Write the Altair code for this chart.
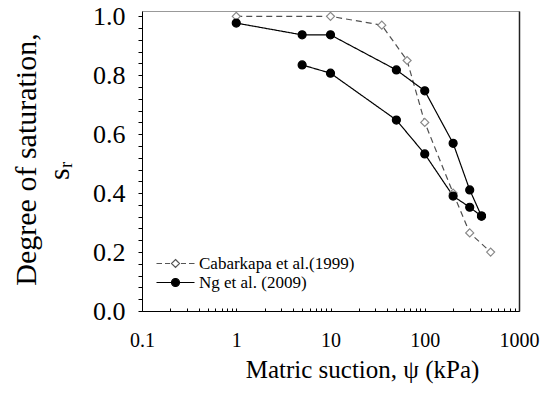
import altair as alt
import pandas as pd

CAB = "Cabarkapa et al.(1999)"
NG = "Ng et al. (2009)"

# Cabarkapa et al. (1999)
cab_psi = [1, 10, 35, 65, 100, 200, 300, 500]
cab_sr = [1.0, 1.0, 0.97, 0.85, 0.64, 0.40, 0.265, 0.20]
# Ng et al. (2009) - upper curve
ng1_psi = [1, 5, 10, 50, 100, 200, 300, 400]
ng1_sr = [0.977, 0.937, 0.937, 0.818, 0.747, 0.569, 0.411, 0.322]
# Ng et al. (2009) - lower curve
ng2_psi = [5, 10, 50, 100, 200, 300, 400]
ng2_sr = [0.835, 0.807, 0.648, 0.533, 0.390, 0.352, 0.322]

x_tick_values = [0.1, 0.2, 0.3, 0.4, 0.5, 0.6, 0.7, 0.8, 0.9,
                 1, 2, 3, 4, 5, 6, 7, 8, 9,
                 10, 20, 30, 40, 50, 60, 70, 80, 90,
                 100, 200, 300, 400, 500, 600, 700, 800, 900, 1000]
x_label_values = [0.1, 1, 10, 100, 1000]
y_tick_values = [0.0, 0.04, 0.08, 0.12, 0.16, 0.2, 0.24, 0.28, 0.32, 0.36,
                 0.4, 0.44, 0.48, 0.52, 0.56, 0.6, 0.64, 0.68, 0.72, 0.76,
                 0.8, 0.84, 0.88, 0.92, 0.96, 1.0]

rows = []
for p, s in zip(cab_psi, cab_sr):
    rows.append({"psi": p, "sr": s, "series": CAB, "curve": "cab"})
for p, s in zip(ng1_psi, ng1_sr):
    rows.append({"psi": p, "sr": s, "series": NG, "curve": "ng1"})
for p, s in zip(ng2_psi, ng2_sr):
    rows.append({"psi": p, "sr": s, "series": NG, "curve": "ng2"})
df = pd.DataFrame(rows)

FONT = "Liberation Serif"
DOMAIN = [CAB, NG]
xscale = alt.Scale(type="log", domain=[0.1, 1000], nice=False)
yscale = alt.Scale(domain=[0, 1.018], nice=False, zero=False)

x_enc = alt.X(
    "psi:Q",
    scale=xscale,
    axis=alt.Axis(
        values=x_tick_values,
        labelExpr="indexof([0.1, 1, 10, 100, 1000], datum.value) >= 0 ? format(datum.value, '') : ''",
        labelOverlap=False,
        labelFlush=False,
        labelFont=FONT,
        labelFontSize=20,
        labelPadding=22,
        tickSize={"expr": "-3"},
        title="Matric suction, \u03c8 (kPa)",
        titleFont=FONT,
        titleFontSize=25,
        titleFontWeight="normal",
        titleX=220,
        titleY=66,
        titleAlign="center",
        titleBaseline="alphabetic",
        grid=False,
    ),
)

y_enc = alt.Y(
    "sr:Q",
    scale=yscale,
    axis=alt.Axis(
        values=y_tick_values,
        labelExpr="abs(datum.value * 5 - round(datum.value * 5)) < 0.001 ? format(datum.value, '.1f') : ''",
        labelOverlap=False,
        labelFlush=False,
        labelFont=FONT,
        labelFontSize=26,
        labelPadding=13,
        tickSize=4,
        title=["Degree of saturation,",
               "s\u1d63\u2002\u00a0\u200b"],
        titleFont=FONT,
        titleFontSize=30,
        titleFontWeight="normal",
        titleLineHeight=33,
        titleAngle=270,
        titleX=-107,
        titleY=148,
        titleAlign="center",
        titleBaseline="alphabetic",
        grid=False,
    ),
)

# legend symbols: line segment(s) + marker drawn as custom symbol paths
path_cab = ("M-1,0L0.1,0M0.7,0L1.7,0M3.9,0L4.9,0M5.5,0L6.6,0"
            "M2.8,-0.8L3.6,0L2.8,0.8L2.0,0Z")
path_ng = "M-1,0L6.6,0M3.6,0A0.8,0.8,0,1,1,2.0,0A0.8,0.8,0,1,1,3.6,0Z"

legend = alt.Legend(
    title=None,
    orient="none",
    legendX=11,
    legendY=244,
    padding=0,
    symbolSize=100,
    symbolStrokeWidth=1.2,
    labelFont=FONT,
    labelFontSize=17,
    labelOffset=29,
    rowPadding=1,
)

lines = alt.Chart(df).mark_line(strokeWidth=1.2).encode(
    x=x_enc,
    y=y_enc,
    detail="curve:N",
    strokeDash=alt.StrokeDash(
        "series:N",
        scale=alt.Scale(domain=DOMAIN, range=[[6, 4], [1, 0]]),
        legend=None,
    ),
    color=alt.Color(
        "series:N",
        scale=alt.Scale(domain=DOMAIN, range=["#505050", "#000000"]),
        legend=None,
    ),
)

points = alt.Chart(df).mark_point(size=64, opacity=1, strokeWidth=1.2).encode(
    x=x_enc,
    y=alt.Y(
        "sr:Q",
        scale=yscale,
        axis=alt.Axis(orient="right", labels=False, ticks=False, title=None,
                      domainColor="#222222", domainWidth=1.5, grid=False),
    ),
    shape=alt.Shape("series:N", scale=alt.Scale(domain=DOMAIN, range=["diamond", "circle"]), legend=None),
    fill=alt.Fill("series:N", scale=alt.Scale(domain=DOMAIN, range=["#ffffff", "#000000"]), legend=None),
    stroke=alt.Stroke("series:N", scale=alt.Scale(domain=DOMAIN, range=["#888888", "#000000"]), legend=None),
)

legend_layer = alt.Chart(df).transform_filter("false").mark_point(opacity=1, strokeWidth=1.2).encode(
    x=x_enc,
    y=alt.Y("sr:Q", scale=yscale, axis=None),
    shape=alt.Shape("series:N", scale=alt.Scale(domain=DOMAIN, range=[path_cab, path_ng]), legend=legend),
    fill=alt.Fill("series:N", scale=alt.Scale(domain=DOMAIN, range=["#ffffff", "#000000"]), legend=legend),
    stroke=alt.Stroke("series:N", scale=alt.Scale(domain=DOMAIN, range=["#555555", "#000000"]), legend=legend),
)

chart = (
    alt.layer(lines, points, legend_layer)
    .resolve_axis(y="independent")
    .resolve_scale(shape="independent", fill="independent", stroke="independent")
    .properties(
        width=377,
        height=300,
        autosize=alt.AutoSizeParams(type="none"),
        padding={"left": 142, "top": 11, "right": 27, "bottom": 89},
        background="white",
    )
    .configure(font=FONT, style={"guide-label": {"font": FONT}, "guide-title": {"font": FONT}})
    .configure_view(stroke="#999999", strokeWidth=1)
    .configure_axis(
        labelFont=FONT,
        titleFont=FONT,
        labelColor="black",
        titleColor="black",
        domainColor="black",
        tickColor="black",
        domainWidth=1,
    )
    .configure_legend(labelColor="black", labelFont=FONT)
)

chart.save("out.html", embed_options={"renderer": "svg", "actions": False})
